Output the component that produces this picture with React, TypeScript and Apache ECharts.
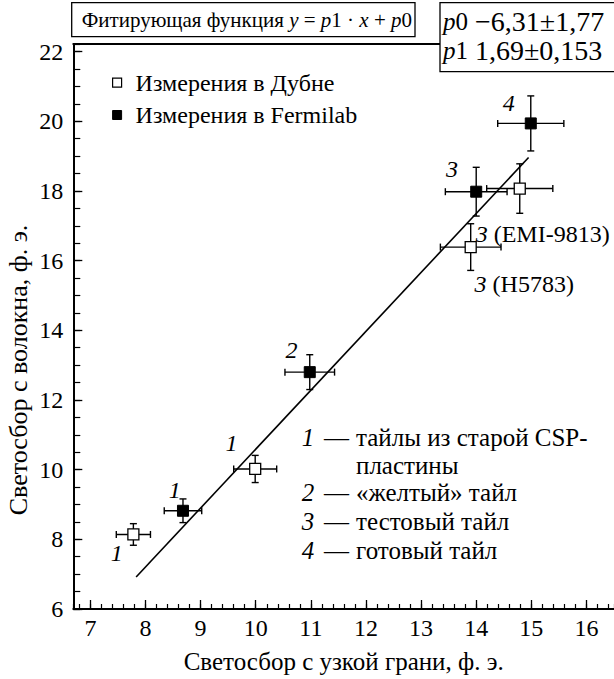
import React, { useEffect, useRef } from "react";
import * as echarts from "echarts";

// ---- data ----
const dubnaX = [7.78, 9.99, 13.9, 14.79];
const dubnaY = [8.14, 10.02, 16.39, 18.07];
const dubnaXErr = [0.31, 0.39, 0.55, 0.6];
const dubnaYErr = [0.31, 0.39, 0.67, 0.71];

const fermiX = [8.68, 10.98, 14.0, 14.99];
const fermiY = [8.82, 12.8, 17.98, 19.94];
const fermiXErr = [0.34, 0.45, 0.56, 0.6];
const fermiYErr = [0.34, 0.5, 0.7, 0.79];

const fitX = [7.83, 14.95];
const fitY = [6.92, 18.96];

const seriesNames = ["Измерения в Дубне", "Измерения в Fermilab"];

const pointTags = ["1", "1", "1", "2", "3", "4"];
const pointTagX = [7.48, 8.53, 9.56, 10.65, 13.56, 14.59];
const pointTagY = [7.62, 9.43, 10.76, 13.43, 18.62, 20.53];

const pmtTags = ["(EMI-9813)", "(H5783)"];
const pmtTagX = [13.99, 13.97];
const pmtTagY = [16.76, 15.33];

const keyNums = ["1", "", "2", "3", "4"];
const keyTexts = ["тайлы из старой CSP-", "пластины", "«желтый» тайл", "тестовый тайл", "готовый тайл"];

const xTitle = "Светосбор с узкой грани, ф. э.";
const yTitle = "Светосбор с волокна, ф. э.";

const FONT = "Liberation Serif";
const FS_TICK = 24;
const FS_TEXT = 25;
const FS_LEG = 24;
const FS_BOX = 21;
const FS_PAR = 28;
const FS_TAG = 24;

export default function App() {
  const ref = useRef<HTMLDivElement>(null);

  useEffect(() => {
    const chart = echarts.init(ref.current!, null, { renderer: "svg" });

    const errData = (xs: number[], ys: number[], exs: number[], eys: number[]) =>
      xs.map((x, i) => [x, ys[i], exs[i], eys[i]]);

    const errRender = (params: any, api: any) => {
      const x = api.value(0), y = api.value(1), ex = api.value(2), ey = api.value(3);
      const l = api.coord([x - ex, y]);
      const r = api.coord([x + ex, y]);
      const t = api.coord([x, y + ey]);
      const b = api.coord([x, y - ey]);
      const c = 3.5;
      const st = { stroke: "#000", lineWidth: 1.4 };
      return {
        type: "group",
        children: [
          { type: "line", shape: { x1: l[0], y1: l[1], x2: r[0], y2: r[1] }, style: st },
          { type: "line", shape: { x1: t[0], y1: t[1], x2: b[0], y2: b[1] }, style: st },
          { type: "line", shape: { x1: l[0], y1: l[1] - c, x2: l[0], y2: l[1] + c }, style: st },
          { type: "line", shape: { x1: r[0], y1: r[1] - c, x2: r[0], y2: r[1] + c }, style: st },
          { type: "line", shape: { x1: t[0] - c, y1: t[1], x2: t[0] + c, y2: t[1] }, style: st },
          { type: "line", shape: { x1: b[0] - c, y1: b[1], x2: b[0] + c, y2: b[1] }, style: st },
        ],
      };
    };

    const xMin = 6.69, xMax = 16.5, yMin = 6, yMax = 22.22;
    const tickStyle = { fontFamily: FONT, fontSize: FS_TICK, color: "#000" };
    const nameStyle = { fontFamily: FONT, fontSize: FS_TEXT, color: "#000" };
    const italicRich = (fs: number) => ({ i: { fontFamily: FONT, fontSize: fs, fontStyle: "italic", fill: "#000" } });

    const option: any = {
      animation: false,
      backgroundColor: "#fff",
      textStyle: { fontFamily: FONT },
      grid: { left: 73.3, right: 0, top: 44, bottom: 67.3, containLabel: false },
      legend: {
        left: 112,
        top: 69.7,
        padding: 0,
        orient: "vertical",
        itemWidth: 9,
        itemHeight: 9,
        itemGap: 6.3,
        icon: "rect",
        textStyle: { fontFamily: FONT, fontSize: FS_LEG, color: "#000", lineHeight: 26, padding: [0, 0, 0, 9] },
        data: [
          { name: seriesNames[0], icon: "rect", itemStyle: { color: "#fff", borderColor: "#000", borderWidth: 1.2 } },
          { name: seriesNames[1], icon: "rect", itemStyle: { color: "#000", borderColor: "#000", borderWidth: 1 } },
        ],
      },
      xAxis: [
        {
          type: "value",
          min: xMin,
          max: xMax,
          splitNumber: 10,
          position: "bottom",
          name: xTitle,
          nameLocation: "middle",
          nameGap: 40,
          nameTextStyle: nameStyle,
          axisLine: { show: true, onZero: false, lineStyle: { color: "#000", width: 2 } },
          axisTick: { show: true, inside: true, length: 9, lineStyle: { color: "#000", width: 1.3 } },
          axisLabel: { ...tickStyle, margin: 7, showMinLabel: false, showMaxLabel: false },
          splitLine: { show: false },
        },
        {
          type: "value",
          min: xMin,
          max: xMax,
          splitNumber: 49,
          position: "bottom",
          axisLine: { show: false },
          axisTick: { show: true, inside: true, length: 5, lineStyle: { color: "#000", width: 1.2 } },
          axisLabel: { show: false },
          splitLine: { show: false },
        },
        {
          type: "value",
          min: xMin,
          max: xMax,
          position: "top",
          axisLine: { show: true, onZero: false, lineStyle: { color: "#000", width: 2 } },
          axisTick: { show: false },
          axisLabel: { show: false },
          splitLine: { show: false },
        },
      ],
      yAxis: [
        {
          type: "value",
          min: yMin,
          max: yMax,
          interval: 2,
          position: "left",
          axisLine: { show: true, onZero: false, lineStyle: { color: "#000", width: 2 } },
          axisTick: { show: true, inside: true, length: 9, lineStyle: { color: "#000", width: 1.3 } },
          axisLabel: { ...tickStyle, margin: 10, showMaxLabel: false },
          splitLine: { show: false },
        },
        {
          type: "value",
          min: yMin,
          max: yMax,
          interval: 0.5,
          position: "left",
          axisLine: { show: false },
          axisTick: { show: true, inside: true, length: 7, lineStyle: { color: "#000", width: 1.2 } },
          axisLabel: { show: false },
          splitLine: { show: false },
        },
      ],
      series: [
        {
          type: "custom",
          name: "errDubna",
          renderItem: errRender,
          data: errData(dubnaX, dubnaY, dubnaXErr, dubnaYErr),
          z: 2,
          silent: true,
        },
        {
          type: "custom",
          name: "errFermi",
          renderItem: errRender,
          data: errData(fermiX, fermiY, fermiXErr, fermiYErr),
          z: 2,
          silent: true,
        },
        {
          type: "line",
          name: "fit",
          data: fitX.map((x, i) => [x, fitY[i]]),
          showSymbol: false,
          symbol: "none",
          lineStyle: { color: "#000", width: 1.6 },
          z: 3,
        },
        {
          type: "scatter",
          name: seriesNames[0],
          symbol: "rect",
          symbolSize: 11,
          itemStyle: { color: "#fff", borderColor: "#000", borderWidth: 1.3, opacity: 1 },
          data: dubnaX.map((x, i) => [x, dubnaY[i]]),
          z: 5,
        },
        {
          type: "scatter",
          name: seriesNames[1],
          symbol: "rect",
          symbolSize: 11,
          itemStyle: { color: "#000", borderColor: "#000", borderWidth: 1, opacity: 1 },
          data: fermiX.map((x, i) => [x, fermiY[i]]),
          z: 5,
        },
        {
          type: "scatter",
          name: "tags",
          symbolSize: 0,
          silent: true,
          itemStyle: { opacity: 1, color: "#000" },
          data: pointTags.map((t, i) => ({
            value: [pointTagX[i], pointTagY[i]],
            label: { formatter: t },
          })),
          label: {
            show: true,
            position: "inside",
            fontFamily: FONT,
            fontSize: FS_TAG,
            fontStyle: "italic",
            color: "#000",
          },
          z: 6,
        },
        {
          type: "scatter",
          name: "pmt",
          symbolSize: 0,
          silent: true,
          itemStyle: { opacity: 1, color: "#000" },
          data: pmtTags.map((t, i) => ({
            value: [pmtTagX[i], pmtTagY[i]],
            label: { formatter: "{i|3} " + t },
          })),
          label: {
            show: true,
            position: [0, 0],
            align: "left",
            verticalAlign: "middle",
            fontFamily: FONT,
            fontSize: FS_TAG,
            color: "#000",
            rich: { i: { fontFamily: FONT, fontSize: FS_TAG, fontStyle: "italic", color: "#000" } },
          },
          z: 6,
        },
      ],
      graphic: [
        // y axis title
        {
          type: "text",
          z: 101,
          x: 18,
          y: 370,
          rotation: Math.PI / 2,
          style: {
            text: yTitle,
            fontFamily: FONT,
            fontSize: 26,
            fill: "#000",
            align: "center",
            verticalAlign: "middle",
          },
        },
        // fit function box
        {
          type: "rect",
          z: 100,
          shape: { x: 71.7, y: 2.7, width: 343.3, height: 34 },
          style: { fill: "#fff", stroke: "#000", lineWidth: 1.3 },
        },
        {
          type: "text",
          z: 101,
          x: 81.7,
          y: 20,
          style: {
            text: "Фитирующая функция {i|y} = {i|p}1 · {i|x} + {i|p}0",
            fontFamily: FONT,
            fontSize: FS_BOX,
            fill: "#000",
            verticalAlign: "middle",
            rich: italicRich(FS_BOX),
          },
        },
        // parameters box
        {
          type: "rect",
          z: 100,
          shape: { x: 440, y: 2.7, width: 220, height: 69 },
          style: { fill: "#fff", stroke: "#000", lineWidth: 1.3 },
        },
        {
          type: "text",
          z: 101,
          x: 443,
          y: 21,
          style: {
            text: "{i|p}0",
            fontFamily: FONT, fontSize: FS_TEXT, fill: "#000", verticalAlign: "middle",
            rich: italicRich(FS_TEXT),
          },
        },
        {
          type: "text",
          z: 101,
          x: 475,
          y: 21,
          style: { text: "−6,31±1,77", fontFamily: FONT, fontSize: FS_PAR, fill: "#000", verticalAlign: "middle" },
        },
        {
          type: "text",
          z: 101,
          x: 443,
          y: 50,
          style: {
            text: "{i|p}1",
            fontFamily: FONT, fontSize: FS_TEXT, fill: "#000", verticalAlign: "middle",
            rich: italicRich(FS_TEXT),
          },
        },
        {
          type: "text",
          z: 101,
          x: 475,
          y: 50,
          style: { text: "1,69±0,153", fontFamily: FONT, fontSize: FS_PAR, fill: "#000", verticalAlign: "middle" },
        },
        // key of tile types
        ...keyTexts.flatMap((t, i) => {
          const y = [437, 465, 492, 521, 550][i];
          const els: any[] = [
            {
              type: "text",
              z: 101,
              x: 356,
              y,
              style: { text: t, fontFamily: FONT, fontSize: FS_TEXT, fill: "#000", verticalAlign: "middle" },
            },
          ];
          if (keyNums[i]) {
            els.push(
              {
                type: "text",
                z: 101,
                x: 308,
                y,
                style: {
                  text: keyNums[i], fontFamily: FONT, fontSize: FS_TEXT, fontStyle: "italic",
                  fill: "#000", align: "center", verticalAlign: "middle",
                },
              },
              {
                type: "text",
                z: 101,
                x: 324,
                y,
                style: { text: "—", fontFamily: FONT, fontSize: FS_TEXT, fill: "#000", verticalAlign: "middle" },
              }
            );
          }
          return els;
        }),
      ],
    };

    chart.setOption(option);
    return () => chart.dispose();
  }, []);

  return (
    <div
      ref={ref}
      style={{ position: "absolute", left: 0, top: 0, width: 614, height: 679 }}
    />
  );
}
